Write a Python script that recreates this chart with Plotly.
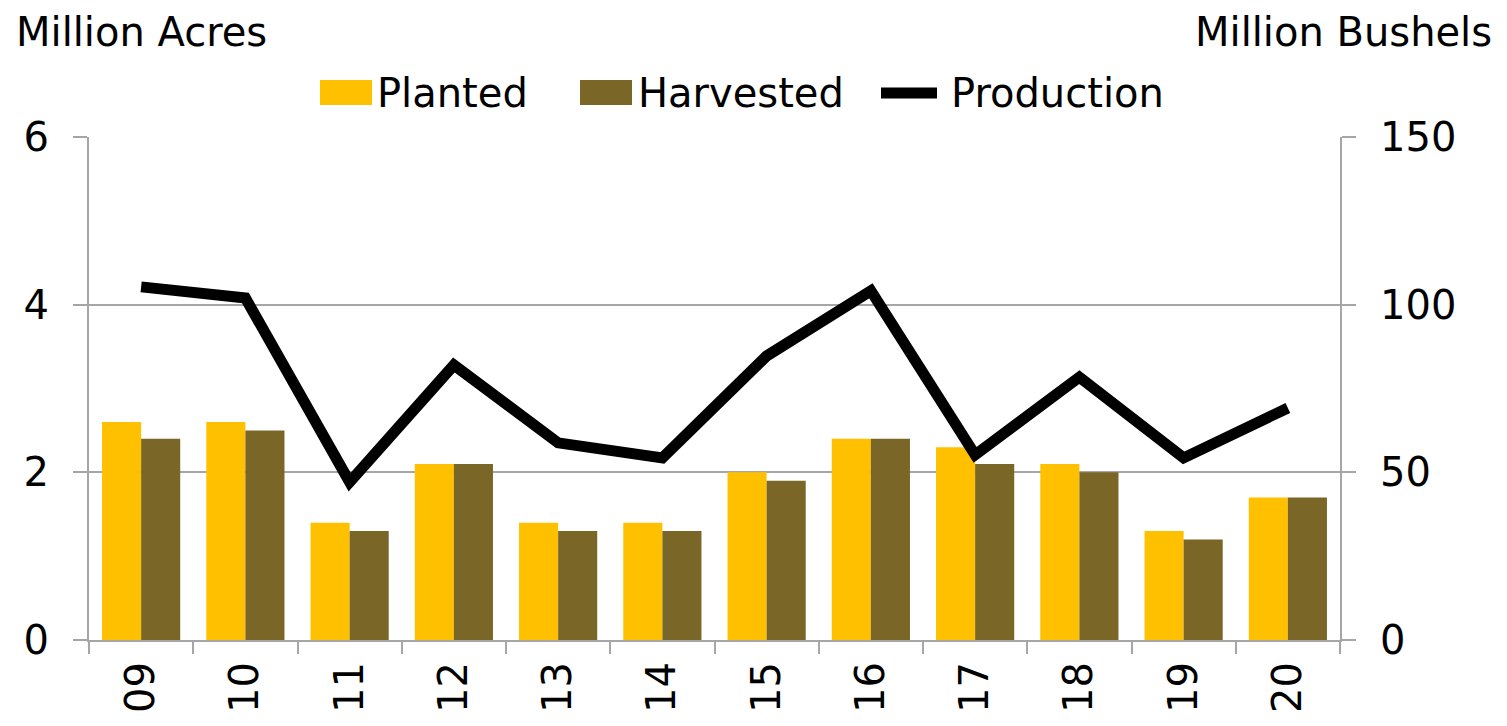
import plotly.graph_objects as go

years = ["09", "10", "11", "12", "13", "14", "15", "16", "17", "18", "19", "20"]
planted = [2.6, 2.6, 1.4, 2.1, 1.4, 1.4, 2.0, 2.4, 2.3, 2.1, 1.3, 1.7]
harvested = [2.4, 2.5, 1.3, 2.1, 1.3, 1.3, 1.9, 2.4, 2.1, 2.0, 1.2, 1.7]
production = [105.3, 102.0, 47.1, 82.0, 58.8, 54.3, 84.7, 104.1, 55.2, 78.4, 54.3, 69.2]

FONT = "DejaVu Sans"
GRID = "#A6A6A6"
C_PLANT = "#FFC000"
C_HARV = "#7A6728"
OFF = 8  # page body margin in browser

W, H = 1507, 726
L, R, T, B = 89 - OFF, W - (1340 - OFF), 137 - OFF, H - (640 - OFF)
plot_w = W - L - R
plot_h = H - T - B

def px(xpix):
    return (xpix - OFF - L) / plot_w

def py(ypix):
    return (H - B - (ypix - OFF)) / plot_h

fig = go.Figure()
fig.add_trace(go.Bar(x=years, y=planted, name="Planted", marker_color=C_PLANT,
                     marker_line_width=0))
fig.add_trace(go.Bar(x=years, y=harvested, name="Harvested", marker_color=C_HARV,
                     marker_line_width=0))
fig.add_trace(go.Scatter(x=years, y=production, name="Production", mode="lines",
                         line=dict(color="black", width=11), yaxis="y2"))

# custom legend (wide swatches like the original)
shapes = [
    dict(type="rect", xref="paper", yref="paper", x0=px(320), x1=px(372),
         y0=py(105), y1=py(80), fillcolor=C_PLANT, line_width=0),
    dict(type="rect", xref="paper", yref="paper", x0=px(580), x1=px(632),
         y0=py(105), y1=py(80), fillcolor=C_HARV, line_width=0),
    dict(type="line", xref="paper", yref="paper", x0=px(881), x1=px(937),
         y0=py(93), y1=py(93), line=dict(color="black", width=11)),
]
annotations = [
    dict(text="Million Acres", x=px(14), y=py(32), xanchor="left"),
    dict(text="Million Bushels", x=px(1494), y=py(32), xanchor="right"),
    dict(text="Planted", x=px(375), y=py(93), xanchor="left"),
    dict(text="Harvested", x=px(636), y=py(93), xanchor="left"),
    dict(text="Production", x=px(949), y=py(93), xanchor="left"),
]
for a in annotations:
    a.update(xref="paper", yref="paper", yanchor="middle", showarrow=False,
             font=dict(size=40, family=FONT, color="black"))

fig.update_layout(
    width=W, height=H,
    margin=dict(l=L, r=R, t=T, b=B, autoexpand=False),
    paper_bgcolor="white", plot_bgcolor="white",
    font=dict(family=FONT, size=40, color="black"),
    barmode="group", bargap=0.25, bargroupgap=0,
    showlegend=False,
    xaxis=dict(type="category", showline=True, linecolor=GRID, linewidth=2,
               ticks="outside", tickson="boundaries", ticklen=12, tickcolor=GRID,
               tickwidth=2, tickangle=-90, tickfont=dict(size=40),
               showgrid=False, ticklabelstandoff=4),
    yaxis=dict(range=[0, 6], dtick=2, showline=True, linecolor=GRID, linewidth=2,
               showgrid=True, gridcolor=GRID, gridwidth=2, ticks="outside",
               ticklen=14, tickcolor=GRID, tickwidth=2, zeroline=False,
               tickfont=dict(size=40), ticklabelstandoff=16),
    yaxis2=dict(range=[0, 150], dtick=50, overlaying="y", side="right",
                showline=True, linecolor=GRID, linewidth=2, showgrid=False,
                ticks="outside", ticklen=14, tickcolor=GRID, tickwidth=2,
                zeroline=False, tickfont=dict(size=40), ticklabelstandoff=16),
    shapes=shapes,
    annotations=annotations,
)

fig.write_html("out.html")
